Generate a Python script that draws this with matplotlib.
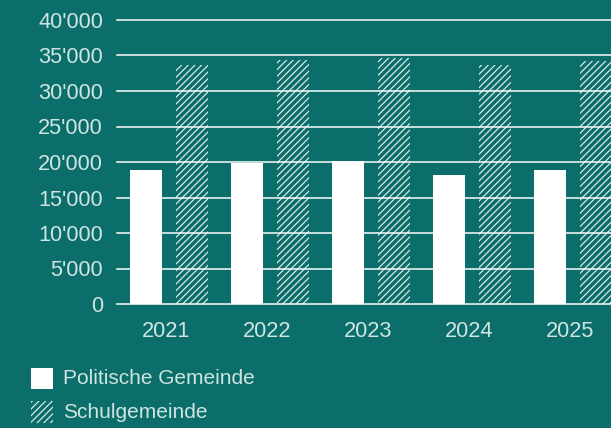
import matplotlib.pyplot as plt
from matplotlib.patches import Rectangle
from matplotlib.ticker import FuncFormatter, MultipleLocator

# --- data ------------------------------------------------------------------
years      = ["2021", "2022", "2023", "2024", "2025"]
politische = [18900, 19800, 20100, 18200, 18900]
schule     = [33700, 34400, 34700, 33700, 34200]

BG   = "#0b6e6a"
TXT  = "#cfe5e1"
HATCH_EC = (1, 1, 1, 0.88)
FONT = ["Liberation Sans", "DejaVu Sans"]
plt.rcParams['font.family'] = FONT
plt.rcParams['hatch.linewidth'] = 0.85

fig = plt.figure(figsize=(6.11, 4.28), dpi=100, facecolor=BG)
# axes deliberately runs past the right edge (last bar is cut in the original)
ax = fig.add_axes([117 / 611, 1 - 304 / 428, 506.5 / 611, 284 / 428])
ax.set_facecolor(BG)

x = range(len(years))
w, off = 0.32, 0.225
ax.bar([i - off for i in x], politische, width=w, color="white", linewidth=0, zorder=2)
ax.bar([i + off for i in x], schule, width=w, color="none", edgecolor=HATCH_EC,
       hatch="/////", linewidth=0, zorder=2)

ax.set_xlim(-0.515, 4.5)
ax.set_ylim(0, 40000)
ax.yaxis.set_major_locator(MultipleLocator(5000))
ax.yaxis.set_major_formatter(FuncFormatter(lambda v, p: f"{int(v):,}".replace(",", "'")))
ax.set_xticks([i - 0.03 for i in x])
ax.set_xticklabels(years)

ax.grid(axis="y", color="white", lw=1.2, alpha=0.9, zorder=1)
for ln in ax.get_ygridlines():
    ln.set_clip_on(False)
for s in ax.spines.values():
    s.set_visible(False)
ax.tick_params(length=0, labelsize=15.7, colors=TXT)
ax.tick_params(axis="y", pad=10)
ax.tick_params(axis="x", pad=12.5)

# --- legend, drawn by hand in pixel-ish figure coords ----------------------
def fx(px): return px / 611
def fy(py): return 1 - py / 428

fig.add_artist(Rectangle((fx(31), fy(389)), fx(22), 21 / 428, transform=fig.transFigure,
                         facecolor="white", linewidth=0))
fig.add_artist(Rectangle((fx(31), fy(423)), fx(22), 22 / 428, transform=fig.transFigure,
                         facecolor="none", edgecolor=HATCH_EC, hatch="/////", linewidth=0))
fig.text(fx(63), fy(379), "Politische Gemeinde", color=TXT, fontsize=15, va="center")
fig.text(fx(63), fy(412), "Schulgemeinde", color=TXT, fontsize=15, va="center")

fig.savefig("out.png", dpi=100, facecolor=BG)
